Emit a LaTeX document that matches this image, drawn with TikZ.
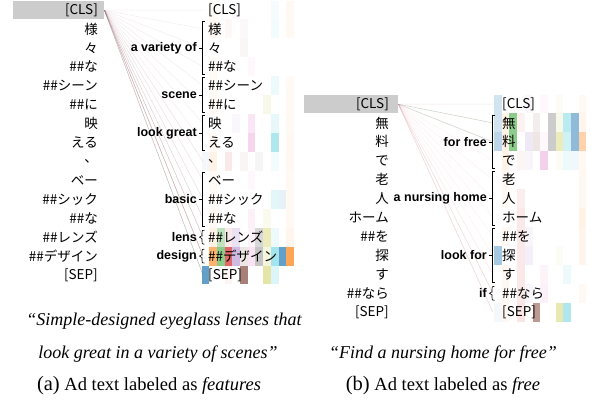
\documentclass[tikz,border=0pt]{standalone}
\usepackage{fontspec}
\setmainfont{Liberation Serif}
\newfontfamily\jpf{Noto Sans CJK JP}
\newfontfamily\lblf{Liberation Sans}
\usetikzlibrary{calc}
\definecolor{hc0}{HTML}{1F77B4}
\definecolor{hc1}{HTML}{FF7F0E}
\definecolor{hc2}{HTML}{2CA02C}
\definecolor{hc3}{HTML}{D62728}
\definecolor{hc4}{HTML}{9467BD}
\definecolor{hc5}{HTML}{8C564B}
\definecolor{hc6}{HTML}{E377C2}
\definecolor{hc7}{HTML}{7F7F7F}
\definecolor{hc8}{HTML}{BCBD22}
\definecolor{hc9}{HTML}{17BECF}
\definecolor{hc10}{HTML}{1F77B4}
\definecolor{hc11}{HTML}{FF7F0E}
\tikzset{
  tokL/.style={anchor=east, inner sep=1pt, font=\jpf\fontsize{13.5}{14}\selectfont},
  tokR/.style={anchor=west, inner sep=1pt, font=\jpf\fontsize{13.5}{14}\selectfont},
  grp/.style={anchor=east, inner sep=1pt, font=\lblf\bfseries\fontsize{12.5}{13}\selectfont},
  brk/.style={line width=0.6pt, black},
  clsbox/.style={fill=black!20, draw=none, minimum width=91pt, minimum height=18pt, anchor=north west, inner sep=0pt},
  captxt/.style={font=\fontsize{18}{20}\selectfont\itshape},
  subcaptxt/.style={font=\fontsize{18.5}{20}\selectfont},
  att/.style={line width=0.5pt}
}
\begin{document}
\begin{tikzpicture}[x=1pt,y=-1pt]
\useasboundingbox (0,0) rectangle (591,407);
% ---------- left heatmap ----------
\def\LX{201.5}\def\LY{10}\def\RX{494}\def\RY{104}\def\dy{18.93}\def\dx{7.7}
\foreach \r/\c/\o in {0/1/0.04,0/4/0.04,0/9/0.04,0/11/0.05,1/1/0.05,1/3/0.04,1/5/0.04,1/9/0.05,1/11/0.05,
  2/5/0.05,3/1/0.04,3/6/0.05,4/1/0.04,4/9/0.08,4/11/0.04,5/1/0.05,5/8/0.1,5/11/0.04,
  6/4/0.05,6/6/0.18,6/9/0.1,6/11/0.05,7/1/0.05,7/6/0.3,7/9/0.35,7/11/0.06,
  8/0/0.05,8/1/0.1,8/3/0.1,8/5/0.06,8/7/0.08,8/9/0.05,8/11/0.06,
  9/1/0.04,9/6/0.05,9/11/0.05,10/1/0.04,10/9/0.12,10/10/0.1,10/11/0.05,
  11/1/0.05,11/6/0.1,11/8/0.08,11/11/0.05,
  12/1/0.1,12/2/0.3,12/3/0.1,12/4/0.2,12/6/0.08,12/7/0.3,12/8/0.3,12/9/0.08,12/11/0.08,
  13/1/0.6,13/2/0.55,13/3/0.7,13/4/0.45,13/5/0.15,13/6/0.2,13/7/0.45,13/8/0.15,13/9/0.4,13/10/0.7,13/11/0.7,
  14/0/0.7,14/5/0.75,14/8/0.4,14/9/0.15,14/3/0.05}
  \fill[hc\c, opacity=\o] ({\LX+\c*\dx},{\LY+\r*\dy-\dy/2}) rectangle ++(\dx,\dy);
% ---------- right heatmap ----------
\foreach \r/\c/\o in {0/0/0.2,0/4/0.05,0/6/0.05,0/8/0.05,0/11/0.05,
  1/0/0.2,1/1/0.1,1/2/0.55,1/3/0.06,1/5/0.1,1/7/0.4,1/8/0.1,1/9/0.3,1/10/0.5,1/11/0.08,
  2/0/0.3,2/1/0.1,2/2/0.55,2/4/0.15,2/5/0.15,2/6/0.05,2/7/0.4,2/8/0.3,2/9/0.2,2/10/0.5,2/11/0.35,
  3/1/0.1,3/3/0.05,3/4/0.06,3/6/0.35,3/8/0.05,3/9/0.08,3/10/0.06,3/11/0.05,
  4/1/0.06,4/11/0.06,5/1/0.05,5/3/0.08,5/11/0.06,6/3/0.1,6/11/0.1,
  7/1/0.05,7/3/0.1,7/4/0.06,7/11/0.08,8/0/0.4,8/3/0.1,8/4/0.1,8/8/0.05,8/11/0.08,
  9/1/0.06,9/3/0.1,9/6/0.08,9/9/0.08,10/1/0.06,10/3/0.1,10/4/0.06,10/6/0.1,10/11/0.05,
  11/0/0.05,11/1/0.06,11/3/0.12,11/5/0.6,11/8/0.35,11/9/0.35}
  \fill[hc\c, opacity=\o] ({\RX+\c*\dx},{\RY+\r*\dy-\dy/2}) rectangle ++(\dx,\dy);
% ---------- left tokens ----------
\node[clsbox] (lbox) at (13,1) {};
\foreach \t [count=\i from 0] in {[CLS],様,々,\#\#な,\#\#シーン,\#\#に,映,える,、,ベー,\#\#シック,\#\#な,\#\#レンズ,\#\#デザイン,[SEP]}{
  \node[tokL] (la\i) at (99,{\LY+\i*\dy}) {\t};
  \node[tokR] (lb\i) at (207,{\LY+\i*\dy}) {\t};
}
% ---------- right tokens ----------
\node[clsbox, minimum width=94pt] (rbox) at (304,95) {};
\foreach \t [count=\i from 0] in {[CLS],無,料,で,老,人,ホーム,\#\#を,探,す,\#\#なら,[SEP]}{
  \node[tokL] (ra\i) at (390,{\RY+\i*\dy}) {\t};
  \node[tokR] (rb\i) at (501,{\RY+\i*\dy}) {\t};
}
% ---------- attention lines left ----------
\foreach \k in {0,...,14}{
  \foreach \col in {hc5,hc7,hc6}
    \draw[att, \col, opacity=0.045] (lbox.east) -- ($(lb\k.west)+(-4,0)$);
}
\foreach \k/\col/\o in {8/hc5/0.08,9/hc7/0.08,10/hc5/0.1,11/hc5/0.1,11/hc7/0.08,12/hc5/0.15,12/hc7/0.15,12/hc6/0.08,13/hc5/0.2,13/hc3/0.08,13/hc7/0.18,13/hc1/0.08,13/hc6/0.08,14/hc5/0.22,14/hc0/0.08,14/hc7/0.12}
  \draw[att, \col, opacity=\o] (lbox.east) -- ($(lb\k.west)+(-4,0)$);
% ---------- attention lines right ----------
\foreach \k in {0,...,11}{
  \foreach \col in {hc3,hc6}
    \draw[att, \col, opacity=0.045] (rbox.east) -- ($(rb\k.west)+(-8,0)$);
}
\foreach \k/\col/\o in {0/hc7/0.08,1/hc7/0.2,1/hc2/0.12,2/hc7/0.2,2/hc2/0.12,9/hc3/0.06,10/hc5/0.1,10/hc3/0.06,11/hc3/0.08,11/hc5/0.1}
  \draw[att, \col, opacity=\o] (rbox.east) -- ($(rb\k.west)+(-8,0)$);
% ---------- brackets ----------
\foreach \bx/\by/\a/\b/\lab/\nm in {202/10/1/3/a variety of/g1,202/10/4/5/scene/g2,202/10/6/7/look great/g3,202/10/9/11/basic/g4,
   492/104/1/3/for free/g5,492/104/4/6/a nursing home/g6,492/104/7/9/look for/g7}{
  \draw[brk] ({\bx+3},{\by+\a*\dy-8}) -- (\bx,{\by+\a*\dy-8}) -- (\bx,{\by+\b*\dy+8}) -- ({\bx+3},{\by+\b*\dy+8});
  \draw[brk] (\bx,{\by+(\a+\b)*\dy/2}) -- ({\bx-3},{\by+(\a+\b)*\dy/2});
  \node[grp] (\nm) at ({\bx-4},{\by+(\a+\b)*\dy/2}) {\lab};
}
\foreach \bx/\by/\a/\lab/\nm in {202/10/12/lens/g8,202/10/13/design/g9,492/104/10/if/g10}{
  \draw[brk] ({\bx+2.5},{\by+\a*\dy-7}) .. controls ({\bx},{\by+\a*\dy-7}) .. ({\bx},{\by+\a*\dy-4}) -- ({\bx},{\by+\a*\dy-1.5}) -- ({\bx-2.5},{\by+\a*\dy}) -- ({\bx},{\by+\a*\dy+1.5}) -- ({\bx},{\by+\a*\dy+4}) .. controls ({\bx},{\by+\a*\dy+7}) .. ({\bx+2.5},{\by+\a*\dy+7});
  \node[grp] (\nm) at ({\bx-4},{\by+\a*\dy}) {\lab};
}
% ---------- captions ----------
\node[captxt] (c1) at (164,321) {“Simple-designed eyeglass lenses that};
\node[captxt] (c2) at (158,354) {look great in a variety of scenes”};
\node[captxt] (c3) at (443,354) {“Find a nursing home for free”};
\node[subcaptxt] (s1) at (149,386) {{\fontsize{20.5}{20}\selectfont(a)} Ad text labeled as \textit{features}};
\node[subcaptxt] (s2) at (443,386) {{\fontsize{20.5}{20}\selectfont(b)} Ad text labeled as \textit{free}};
\end{tikzpicture}
\end{document}
